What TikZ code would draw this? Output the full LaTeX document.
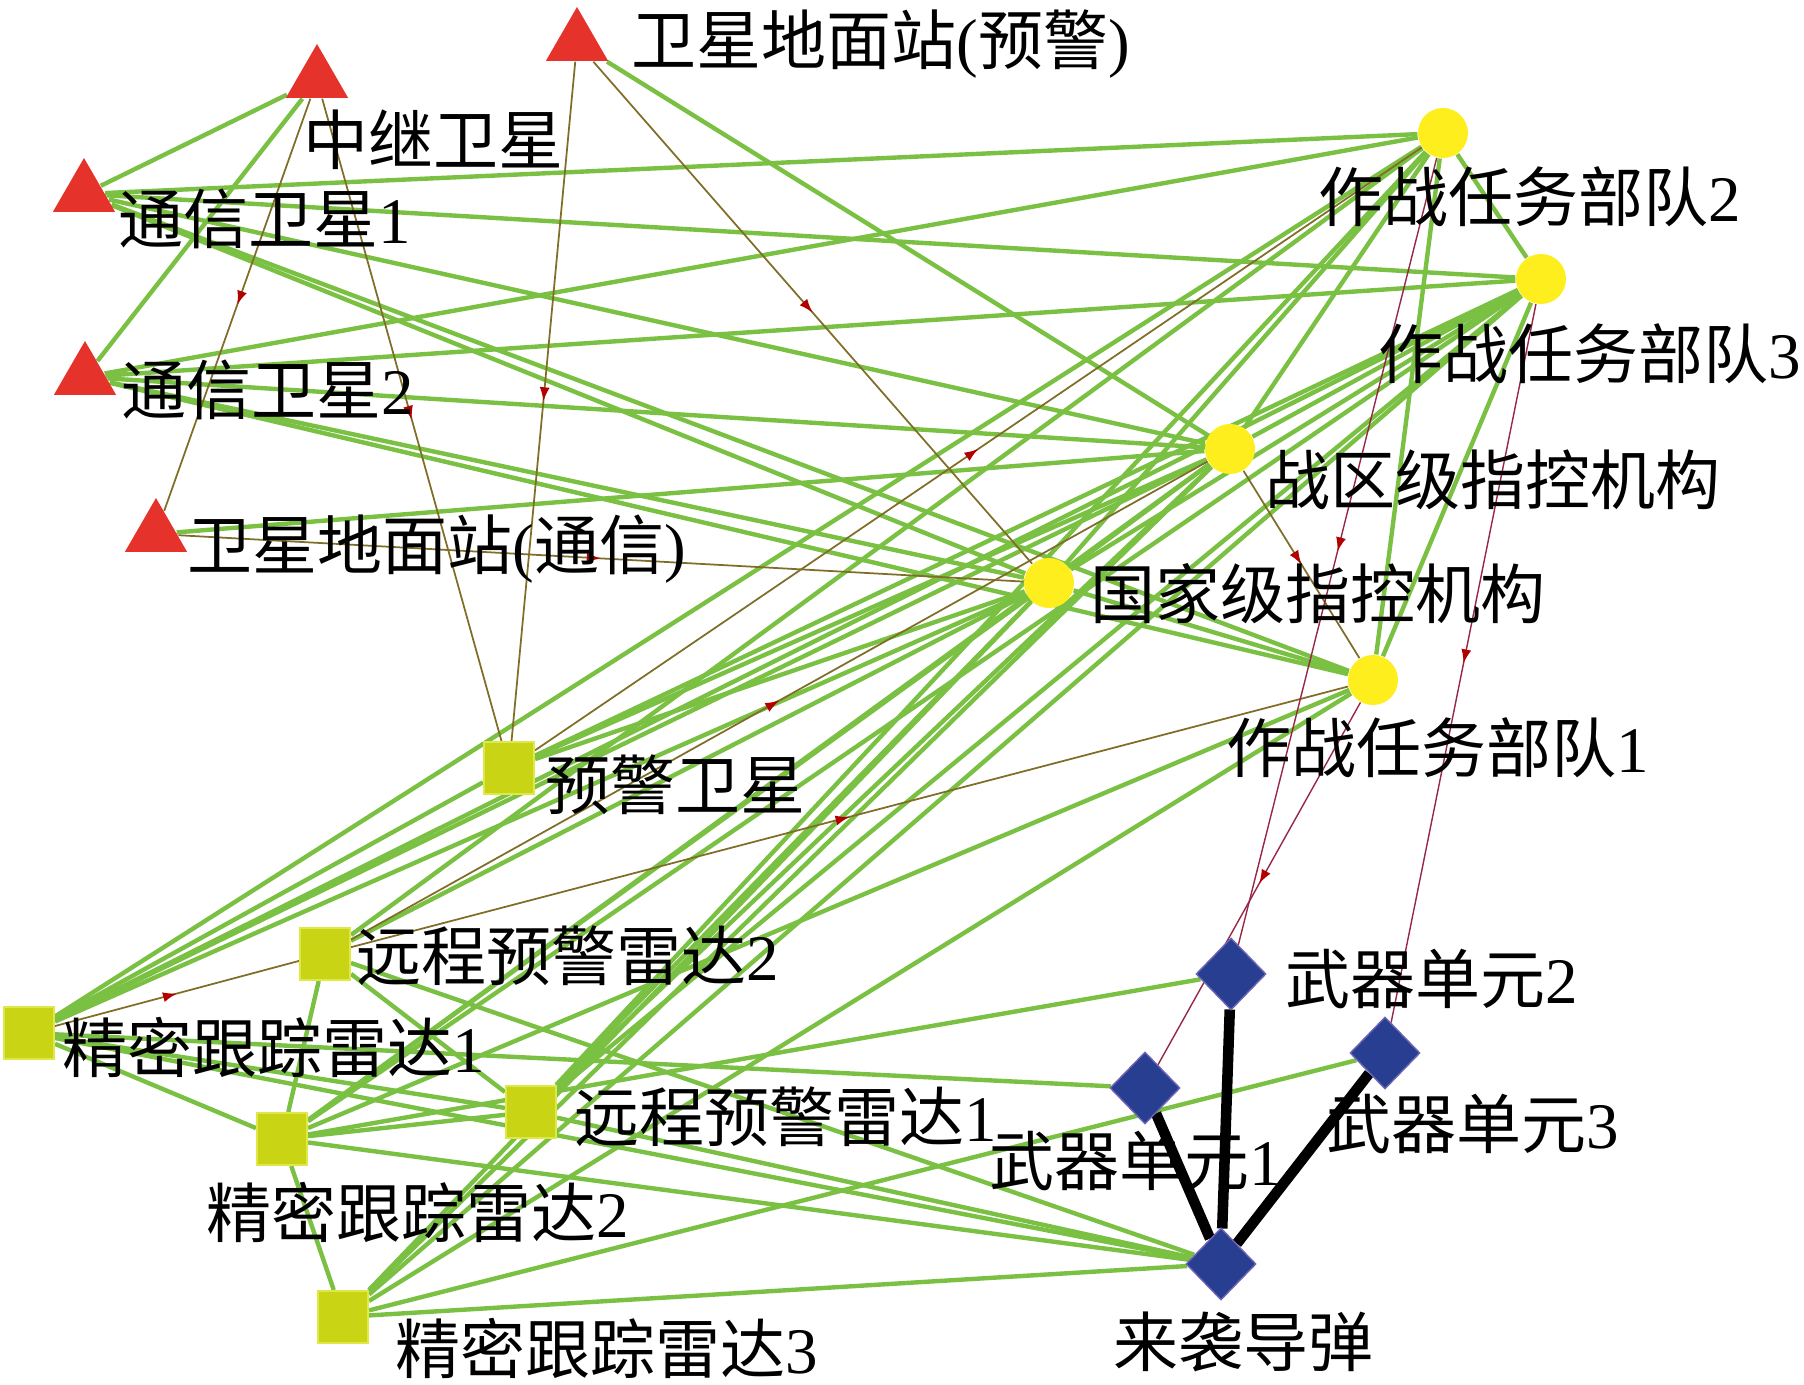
\documentclass[tikz,border=0pt]{standalone}
\usepackage{fontspec}
\setmainfont{Liberation Serif}
\newfontfamily\cjk{Noto Sans CJK SC}
\usepackage{tikz}
\usetikzlibrary{shapes.geometric,backgrounds,decorations.markings,arrows.meta}

\definecolor{satred}{RGB}{229,50,42}
\definecolor{cmdyellow}{RGB}{255,238,30}
\definecolor{sensorgreen}{RGB}{200,212,20}
\definecolor{sensoredge}{RGB}{222,232,70}
\definecolor{weaponblue}{RGB}{40,62,145}
\definecolor{weaponedge}{RGB}{110,100,180}
\definecolor{linkgreen}{RGB}{122,192,66}
\definecolor{satline}{RGB}{128,110,40}
\definecolor{cmdline}{RGB}{150,40,70}

\newcommand{\rmd}[1]{{\rmfamily #1}}

\tikzset{
  sat/.style={regular polygon, regular polygon sides=3, fill=satred,
    inner sep=0pt, minimum size=7.2mm},
  c2/.style={circle, fill=cmdyellow, inner sep=0pt, minimum size=5mm},
  sensor/.style={rectangle, fill=sensorgreen, draw=sensoredge, line width=0.6pt,
    inner sep=0pt, minimum width=5mm, minimum height=5.2mm},
  weapon/.style={diamond, fill=weaponblue, draw=weaponedge, line width=0.4pt,
    inner sep=0pt, minimum width=7mm, minimum height=7.2mm},
  lbl/.style={inner sep=0pt, anchor=west, text=black,
    font=\cjk\fontsize{18.5}{20}\selectfont},
  midarrow/.style={postaction={decorate}, decoration={markings,
    mark=at position 0.5 with {\arrow[red!70!black]{Latex[length=1.4mm,width=1mm]}}}},
  link/.style={linkgreen, line width=1.25pt},
  satlink/.style={draw=satline, line width=0.5pt, midarrow},
  cmdlink/.style={draw=cmdline, line width=0.4pt, midarrow},
  strike/.style={draw=black, line width=3pt},
}

\begin{document}
\begin{tikzpicture}[x=0.1mm, y=-0.1mm]
\useasboundingbox (0, 0) rectangle (1804, 1385);

% satellites
\path (577, 43) node (gw) [sat] {};
\path (317, 80) node (relay) [sat] {};
\path (84, 194) node (cs1) [sat] {};
\path (85, 377) node (cs2) [sat] {};
\path (156, 534) node (gc) [sat] {};

% command nodes
\path (1443, 133) node (t2) [c2] {};
\path (1541, 279) node (t3) [c2] {};
\path (1230, 449) node (zq) [c2] {};
\path (1049, 583) node (gj) [c2] {};
\path (1373, 680) node (t1) [c2] {};

% sensors
\path (509, 768) node (yw) [sensor] {};
\path (325, 954) node (r2) [sensor] {};
\path (29, 1033) node (p1) [sensor] {};
\path (531, 1112) node (r1) [sensor] {};
\path (282, 1139) node (p2) [sensor] {};
\path (343, 1317) node (p3) [sensor] {};

% weapons and target
\path (1231, 974) node (w2) [weapon] {};
\path (1145, 1088) node (w1) [weapon] {};
\path (1385, 1053) node (w3) [weapon] {};
\path (1221, 1264) node (m) [weapon] {};

\begin{scope}[on background layer]
% satellites to command nodes
\path[link] (cs1) edge (relay) edge (t2) edge (t3) edge (zq) edge (gj) edge (t1);
\path[link] (cs2) edge (relay) edge (t2) edge (t3) edge (zq) edge (gj) edge (t1);
\path[link] (gc) edge (zq);
\path[link] (gw) edge (zq);

% command nodes among themselves
\path[link] (gj) edge (zq) edge (t1) edge (t2) edge (t3);
\path[link] (zq) edge (t2) edge (t3);
\path[link] (t2) edge (t3) edge (t1);
\path[link] (t3) edge (t1);

% sensors to command nodes
\path[link] (yw) edge (gj) edge (zq) edge (t3);
\path[link] (p1) edge (yw) edge (gj) edge (zq) edge (t3) edge (t2);
\path[link] (r2) edge (gj) edge (t2);
\path[link] (r1) edge (gj) edge (zq) edge (t3) edge (t2);
\path[link] (p2) edge (gj) edge (zq) edge (t3) edge (t1);
\path[link] (p3) edge (gj) edge (zq) edge (t3) edge (t1);

% sensors among themselves
\path[link] (r2) edge (p2) edge (r1);
\path[link] (p2) edge (p3) edge (r1);
\path[link] (p1) edge (r1) edge (p2);

% target and weapons to sensors
\path[link] (m) edge (p1) edge (p2) edge (p3) edge (r1) edge (r2);
\path[link] (w1) edge (p1);
\path[link] (w2) edge (p2);
\path[link] (w3) edge (p3);

% thin relay links
\draw[satlink] (relay) -- (gc);
\draw[satlink] (relay) -- (yw);
\draw[satlink] (gw) -- (yw);
\draw[satlink] (gw) -- (gj);
\draw[satlink] (gc) -- (gj);
\draw[satlink] (yw) -- (t2);
\draw[satlink] (r2) -- (zq);
\draw[satlink] (r2) -- (t1);
\draw[satlink] (p1) -- (r2);
\draw[satlink] (zq) -- (t1);

% orders to weapons
\draw[cmdlink] (t2) -- (w2);
\draw[cmdlink] (t1) -- (w1);
\draw[cmdlink] (t3) -- (w3);

% engagement
\draw[strike] (m) -- (w1);
\draw[strike] (m) -- (w2);
\draw[strike] (m) -- (w3);
\end{scope}

% labels
\path (631, 44) node (gw-l) [lbl] {卫星地面站\rmd{(}预警\rmd{)}};
\path (303, 140) node (relay-l) [lbl] {中继卫星};
\path (118, 219) node (cs1-l) [lbl] {通信卫星\rmd{1}};
\path (121, 390) node (cs2-l) [lbl] {通信卫星\rmd{2}};
\path (187, 549) node (gc-l) [lbl] {卫星地面站\rmd{(}通信\rmd{)}};
\path (1318, 197) node (t2-l) [lbl] {作战任务部队\rmd{2}};
\path (1378, 354) node (t3-l) [lbl] {作战任务部队\rmd{3}};
\path (1265, 480) node (zq-l) [lbl] {战区级指控机构};
\path (1090, 594) node (gj-l) [lbl] {国家级指控机构};
\path (1226, 748) node (t1-l) [lbl] {作战任务部队\rmd{1}};
\path (545, 785) node (yw-l) [lbl] {预警卫星};
\path (356, 956) node (r2-l) [lbl] {远程预警雷达\rmd{2}};
\path (62, 1047) node (p1-l) [lbl] {精密跟踪雷达\rmd{1}};
\path (574, 1117) node (r1-l) [lbl] {远程预警雷达\rmd{1}};
\path (206, 1212) node (p2-l) [lbl] {精密跟踪雷达\rmd{2}};
\path (395, 1348) node (p3-l) [lbl] {精密跟踪雷达\rmd{3}};
\path (1285, 979) node (w2-l) [lbl] {武器单元\rmd{2}};
\path (989, 1161) node (w1-l) [lbl] {武器单元\rmd{1}};
\path (1326, 1124) node (w3-l) [lbl] {武器单元\rmd{3}};
\path (1113, 1342) node (m-l) [lbl] {来袭导弹};

\end{tikzpicture}
\end{document}
